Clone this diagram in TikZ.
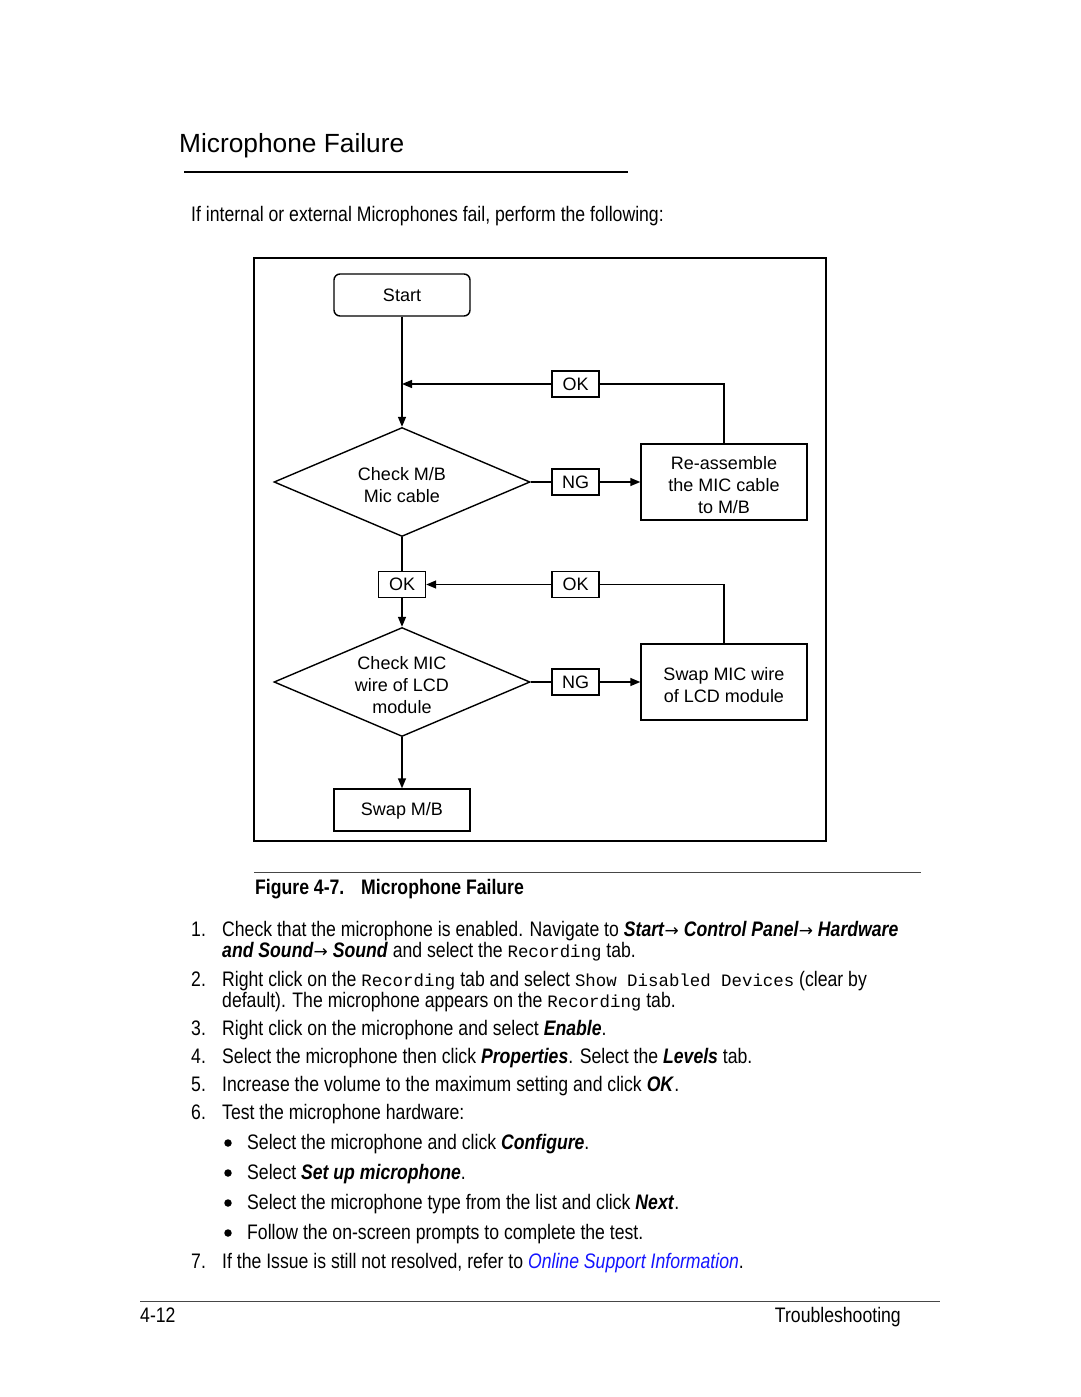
\documentclass[tikz,border=0pt]{standalone}
\usepackage{fontspec}
\setmainfont{Liberation Sans}
\newfontfamily\narrowfont[FakeStretch=0.84]{Liberation Sans}
\newfontfamily\codefont{Liberation Mono}
\newfontfamily\arrowfont{DejaVu Sans}
\usetikzlibrary{shapes.geometric,arrows.meta}
\definecolor{linkblue}{RGB}{20,20,255}
\definecolor{rulegray}{RGB}{70,70,70}
\newcommand\bfit[1]{\textbf{\textit{#1}}}
\newcommand\mytt[1]{{\codefont\fontsize{17.4}{21}\selectfont #1}}
\newcommand\myarrow{{\arrowfont\fontsize{17}{21}\selectfont →}}
\newcommand\topstrut{\rule{0pt}{18.5pt}}
\tikzset{
  body/.style={anchor=base west, inner sep=0, font=\narrowfont\fontsize{21}{21}\selectfont},
  flowbox/.style={draw, line width=1.4pt, align=center, inner sep=0, font=\fontsize{18}{22}\selectfont},
  tag/.style={draw, line width=1.4pt, minimum width=47pt, minimum height=26pt, inner sep=0, font=\fontsize{18}{22}\selectfont},
  decision/.style={diamond, draw, line width=1.4pt, aspect=2.35, minimum width=256pt, minimum height=109pt, inner sep=0, align=center, font=\fontsize{18}{22}\selectfont},
  conn/.style={line width=1.4pt},
  arr/.style={conn, -{Triangle[length=10pt,width=8pt]}},
  dot/.style={circle, fill, inner sep=0, minimum size=7.5pt},
}
\begin{document}
\begin{tikzpicture}[x=1pt,y=-1pt]
\useasboundingbox (0,0) rectangle (1080,1397);

% heading
\node[anchor=base west, inner sep=0, font=\fontsize{26.3}{30}\selectfont] (title) at (179,152) {Microphone Failure};
\draw[line width=2pt] (184,172) -- (628,172);
\node[body] (intro) at (191,221) {If internal or external Microphones fail, perform the following:};

% frame
\draw[line width=2pt] (254,258) rectangle (826,841);

% flowchart
\node[flowbox, rounded corners=6pt, minimum width=136pt, minimum height=42pt] (start) at (402,295) {Start};
\node[tag] (ok1) at (575.5,384) {OK};
\node[decision] (d1) at (402,482) {\topstrut Check M/B\\Mic cable};
\node[tag] (ng1) at (575.5,482) {NG};
\node[flowbox, minimum width=166pt, minimum height=76pt] (reas) at (724,482) {\topstrut Re-assemble\\the MIC cable\\to M/B};
\node[tag] (ok2) at (402,584.5) {OK};
\node[tag] (ok3) at (575.5,584.5) {OK};
\node[decision] (d2) at (402,682) {\topstrut Check MIC\\wire of LCD\\module};
\node[tag] (ng2) at (575.5,682) {NG};
\node[flowbox, minimum width=166pt, minimum height=76pt] (swapmic) at (724,682) {\topstrut Swap MIC wire\\of LCD module};
\node[flowbox, minimum width=136pt, minimum height=42pt, text depth=4pt, text height=15pt] (swapmb) at (402,810) {Swap M/B};

\draw[arr] (start) -- (d1.north);
\draw[arr] (ok1.west) -- (ok1.west -| start.south);
\draw[conn] (ok1.east) -| (reas.north);
\draw[conn] (d1.east) -- (ng1.west);
\draw[arr] (ng1.east) -- (reas.west);
\draw[conn] (d1.south) -- (ok2.north);
\draw[arr] (ok2.south) -- (d2.north);
\draw[arr] (ok3.west) -- (ok2.east);
\draw[conn] (ok3.east) -| (swapmic.north);
\draw[conn] (d2.east) -- (ng2.west);
\draw[arr] (ng2.east) -- (swapmic.west);
\draw[arr] (d2.south) -- (swapmb.north);

% caption
\draw[rulegray, line width=1pt] (254,872) -- (921,872);
\node[body, font=\narrowfont\bfseries\fontsize{21}{21}\selectfont] (fig) at (255,894) {Figure 4-7.};
\node[body, font=\narrowfont\bfseries\fontsize{21}{21}\selectfont] (figt) at (361,894) {Microphone Failure};

% list
\node[body] (n1) at (191,936) {1.};
\node[body] (t1a) at (222,936) {Check that the microphone is enabled. Navigate to \bfit{Start}\myarrow\ \bfit{Control Panel}\myarrow\ \bfit{Hardware}};
\node[body] (t1b) at (222,957) {\bfit{and Sound}\myarrow\ \bfit{Sound} and select the \mytt{Recording} tab.};
\node[body] (n2) at (191,986) {2.};
\node[body] (t2a) at (222,986) {Right click on the \mytt{Recording} tab and select \mytt{Show Disabled Devices} (clear by};
\node[body] (t2b) at (222,1007) {default). The microphone appears on the \mytt{Recording} tab.};
\node[body] (n3) at (191,1035) {3.};
\node[body] (t3) at (222,1035) {Right click on the microphone and select \bfit{Enable}.};
\node[body] (n4) at (191,1063) {4.};
\node[body] (t4) at (222,1063) {Select the microphone then click \bfit{Properties}. Select the \bfit{Levels} tab.};
\node[body] (n5) at (191,1091) {5.};
\node[body] (t5) at (222,1091) {Increase the volume to the maximum setting and click \bfit{OK}.};
\node[body] (n6) at (191,1119) {6.};
\node[body] (t6) at (222,1119) {Test the microphone hardware:};

\node[dot] (b1) at (228,1143) {};
\node[body] (s1) at (247,1149) {Select the microphone and click \bfit{Configure}.};
\node[dot] (b2) at (228,1173) {};
\node[body] (s2) at (247,1179) {Select \bfit{Set up microphone}.};
\node[dot] (b3) at (228,1203) {};
\node[body] (s3) at (247,1209) {Select the microphone type from the list and click \bfit{Next}.};
\node[dot] (b4) at (228,1233) {};
\node[body] (s4) at (247,1239) {Follow the on-screen prompts to complete the test.};

\node[body] (n7) at (191,1268) {7.};
\node[body] (t7) at (222,1268) {If the Issue is still not resolved, refer to \textcolor{linkblue}{\textit{Online Support Information}}.};

% footer
\draw[rulegray, line width=1pt] (140,1301) -- (940,1301);
\node[body] (pg) at (140,1322) {4-12};
\node[body, anchor=base east] (sec) at (901,1322) {Troubleshooting};
\end{tikzpicture}
\end{document}
